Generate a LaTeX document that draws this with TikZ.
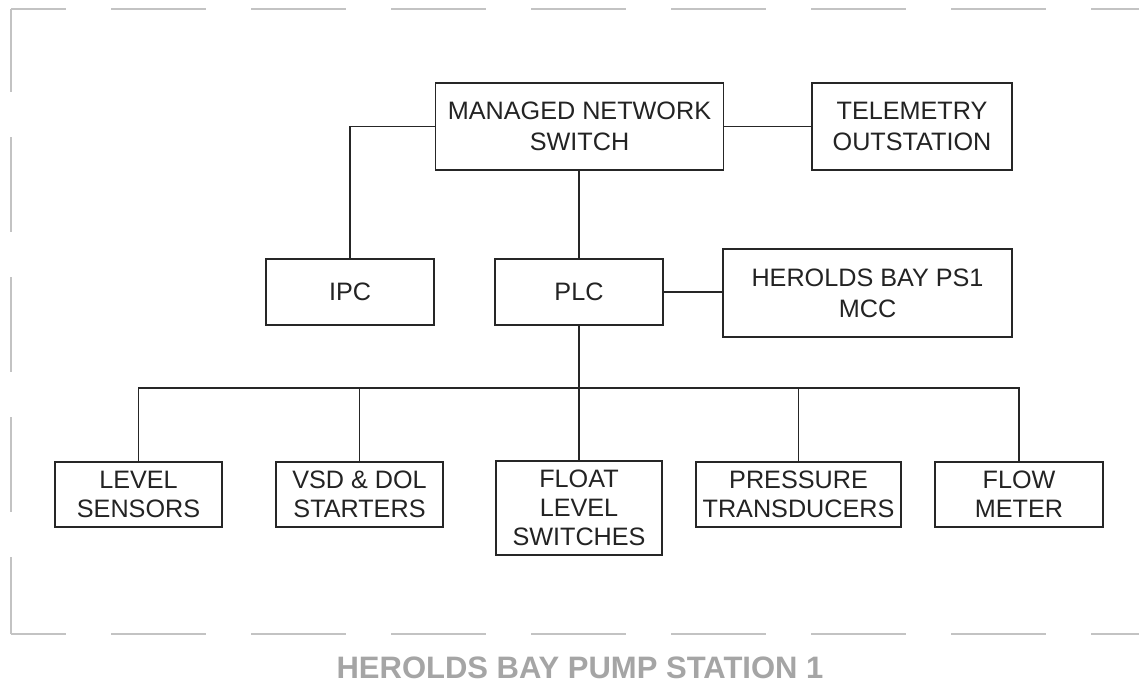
\documentclass[tikz,border=0pt]{standalone}
\usepackage{fontspec}
\setmainfont{Liberation Sans}
\definecolor{txt}{RGB}{35,35,35}
\definecolor{bord}{RGB}{195,195,195}
\definecolor{ttl}{RGB}{165,165,165}
\tikzset{
  box/.style={draw=black!85, line width=1.6pt, align=center, text=txt,
    font=\fontsize{25.2}{29}\selectfont, inner sep=0pt},
  tallbox/.style={box, font=\fontsize{25.2}{31}\selectfont},
  wire/.style={draw=black!85, line width=1.6pt},
  frameline/.style={draw=bord, line width=2pt, dash pattern=on 95pt off 45pt},
}
\begin{document}
\begin{tikzpicture}[x=1pt,y=-1pt]
\useasboundingbox[fill=white] (0,0) rectangle (1139,686);
% frame
\draw[frameline, dash phase=40pt] (11,9) -- (1139,9);
\draw[frameline, dash phase=40pt] (11,634) -- (1139,634);
\draw[frameline, dash phase=12pt] (11,9) -- (11,634);
% nodes
\node[tallbox, minimum width=288pt, minimum height=87pt] (sw) at (579.5,126.5) {MANAGED NETWORK\\SWITCH};
\node[tallbox, minimum width=200pt, minimum height=87pt] (tel) at (912,126.5) {TELEMETRY\\OUTSTATION};
\node[box, minimum width=168pt, minimum height=66pt] (ipc) at (350,292) {IPC};
\node[box, minimum width=168pt, minimum height=66pt] (plc) at (579,292) {PLC};
\node[tallbox, minimum width=289pt, minimum height=88pt] (mcc) at (867.5,293) {HEROLDS BAY PS1\\MCC};
\node[box, minimum width=167pt, minimum height=65pt] (ls) at (138.5,494.5) {LEVEL\\SENSORS};
\node[box, minimum width=167pt, minimum height=65pt] (vsd) at (359.5,494.5) {VSD \& DOL\\STARTERS};
\node[box, minimum width=166pt, minimum height=94pt] (fls) at (579,508) {FLOAT\\LEVEL\\SWITCHES};
\node[box, minimum width=205pt, minimum height=65pt] (pt) at (798.5,494.5) {PRESSURE\\TRANSDUCERS};
\node[box, minimum width=168pt, minimum height=65pt] (fm) at (1019,494.5) {FLOW\\METER};
% connectors
\draw[wire] (sw.west) -| (ipc.north);
\draw[wire] (sw.east) -- (tel.west);
\draw[wire] (plc.north |- sw.south) -- (plc.north);
\draw[wire] (plc.east) -- (plc.east -| mcc.west);
\draw[wire] (plc.south) -- ++(0,62) coordinate (bus);
\draw[wire] (ls.north) |- (bus) -| (fm.north);
\draw[wire] (vsd.north) -- (vsd.north |- bus);
\draw[wire] (fls.north) -- (bus);
\draw[wire] (pt.north) -- (pt.north |- bus);
% title
\node[font=\fontsize{31}{35}\selectfont\bfseries, text=ttl] (title) at (580,668) {HEROLDS BAY PUMP STATION 1};
\end{tikzpicture}
\end{document}
